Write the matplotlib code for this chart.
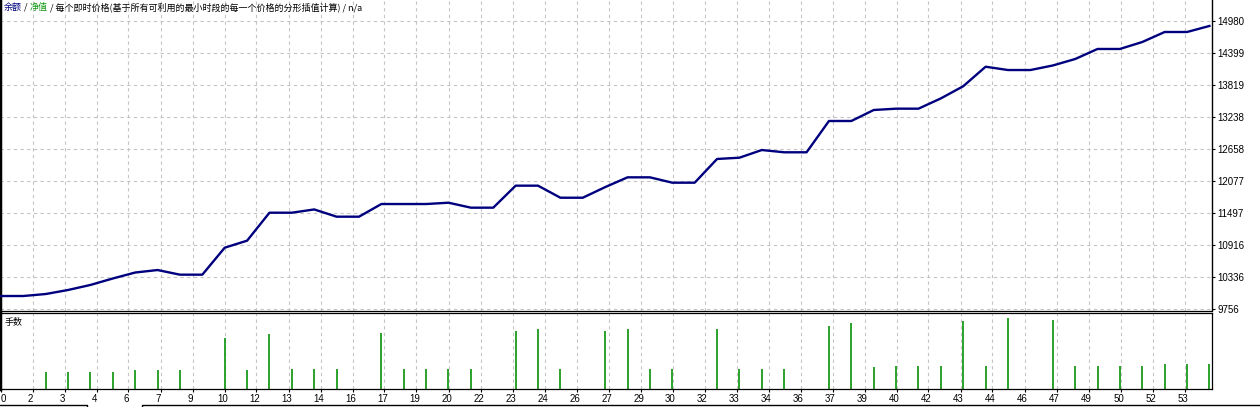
import numpy as np
import matplotlib
matplotlib.use('Agg')
import matplotlib.pyplot as plt
from matplotlib.lines import Line2D
from matplotlib.transforms import ScaledTranslation

plt.rcParams['font.family'] = ['Noto Sans CJK SC', 'DejaVu Sans']

# Datos: saldo después de cada operación y lotes de cada operación
trades = np.arange(55)
balance = [10000, 10000, 10036, 10109, 10200, 10317, 10425, 10470, 10386, 10386,
           10874, 11001, 11507, 11507, 11566, 11435, 11435, 11664, 11664, 11664,
           11688, 11598, 11598, 11996, 11996, 11778, 11778, 11970, 12147, 12147,
           12050, 12050, 12479, 12502, 12641, 12600, 12600, 13166, 13166, 13365,
           13389, 13389, 13575, 13795, 14148, 14088, 14088, 14170, 14287, 14469,
           14469, 14595, 14776, 14776, 14885]
lots = [0, 0, 0.10, 0.10, 0.10, 0.10, 0.11, 0.11, 0.11, 0,
        0.31, 0.11, 0.33, 0.12, 0.12, 0.12, 0, 0.34, 0.12, 0.12,
        0.12, 0.12, 0, 0.35, 0.36, 0.12, 0, 0.35, 0.36, 0.12,
        0.12, 0, 0.36, 0.12, 0.12, 0.12, 0, 0.38, 0.40, 0.13,
        0.14, 0.14, 0.14, 0.41, 0.14, 0.43, 0, 0.42, 0.14, 0.14,
        0.14, 0.14, 0.15, 0.15, 0.15]

x_labels = ['0', '2', '3', '4', '6', '7', '9', '10', '12', '13', '14', '16', '17',
            '19', '20', '22', '23', '24', '26', '27', '29', '30', '32', '33', '34',
            '36', '37', '39', '40', '42', '43', '44', '46', '47', '49', '50', '52', '53']
y_ticks = [9756, 10336, 10916, 11497, 12077, 12658, 13238, 13819, 14399, 14980]

W, H = 1260, 407
fig = plt.figure(figsize=(W / 100, H / 100), dpi=100)
fig.patch.set_facecolor('white')

ax = fig.add_axes([0, 1 - 310.5 / H, 1212 / W, 310.5 / H])
ax2 = fig.add_axes([0, 1 - 388.5 / H, 1212 / W, 75.5 / H])

px = 22.38  # ancho en píxeles de cada operación
xlim = (-0.9 / px, (1212 - 0.9) / px)
grid_pos = (np.arange(len(x_labels)) * 32 - 0.4) / px
grid_kw = dict(color='#c4c4c4', linestyle=(0, (3, 3)), linewidth=0.8)

# Panel superior: saldo
ax.plot(trades, balance, color='#00007f', lw=1.7, solid_joinstyle='round', zorder=3)
ax.set_xlim(xlim)
ax.set_ylim(9756 - 1.0 * 18.09, 9756 + 309.5 * 18.09)
ax.set_xticks(grid_pos)
ax.tick_params(axis='x', length=0, labelbottom=False)
ax.yaxis.tick_right()
ax.set_yticks(y_ticks)
ax.set_yticklabels([str(v) for v in y_ticks])
ax.tick_params(axis='y', length=2, width=0.8, pad=2, labelsize=7,
               labelfontfamily='Liberation Sans', colors='black')
ax.grid(True, **grid_kw)
ax.spines['top'].set_visible(False)
ax.spines['left'].set_linewidth(2.5)
ax.spines['bottom'].set_linewidth(0.9)
ax.spines['right'].set_linewidth(1)

# Panel inferior: lotes
ax2.vlines(trades, 0, lots, color='#1a9a1a', lw=1.3)
ax2.set_xlim(xlim)
ax2.set_ylim(0, 0.46)
ax2.set_yticks([])
ax2.set_xticks(grid_pos)
ax2.set_xticklabels(x_labels)
ax2.tick_params(axis='x', length=2.5, width=0.8, pad=1.5, labelsize=7,
                labelfontfamily='Liberation Sans')
ax2.grid(True, axis='x', **grid_kw)
for s in ['top', 'bottom', 'right']:
    ax2.spines[s].set_linewidth(0.9)
ax2.spines['left'].set_linewidth(2.5)
for i, lab in enumerate(ax2.get_xticklabels()):
    dx = 3 if i == 0 else -2
    lab.set_transform(lab.get_transform() + ScaledTranslation(dx / 100, 0, fig.dpi_scale_trans))
ax2.text(5 / 1212, 1 - 9 / 75.5, '手数', transform=ax2.transAxes, fontsize=6.5,
         va='center', ha='left', color='black')

# Título con colores
title_parts = [('余额', '#00007f'), (' / ', 'black'), ('净值', '#109a10'),
               (' / 每个即时价格(基于所有可利用的最小时段的每一个价格的分形插值计算) / n/a', 'black')]
renderer = fig.canvas.get_renderer()
x = 4
for txt, col in title_parts:
    t = fig.text(x / W, 1 - 7 / H, txt, color=col, fontsize=6.5, va='center', ha='left')
    x += t.get_window_extent(renderer).width

# Barra inferior de la ventana
fig.add_artist(Line2D([0, 87 / W, 87 / W], [1 - 405 / H, 1 - 405 / H, 0],
                      color='black', lw=1, transform=fig.transFigure))
fig.add_artist(Line2D([142 / W, 142 / W, 1], [0, 1 - 405 / H, 1 - 405 / H],
                      color='black', lw=1, transform=fig.transFigure))

fig.savefig('out.png', dpi=100, facecolor='white')
